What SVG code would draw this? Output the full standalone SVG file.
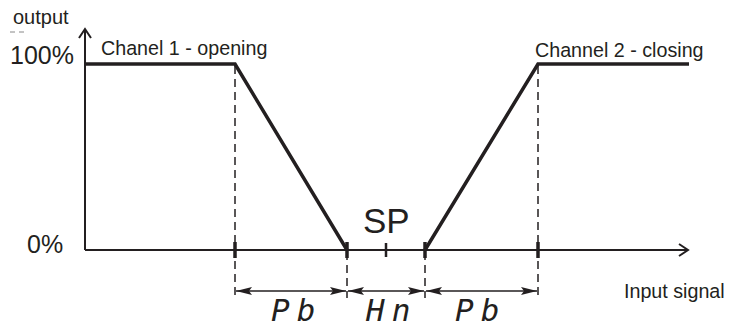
<svg xmlns="http://www.w3.org/2000/svg" width="729" height="329" viewBox="0 0 729 329">
<style>
.t{font-family:"Liberation Sans",Arial,sans-serif;fill:#231f20}
.ax{stroke:#231f20;stroke-width:2;fill:none}
.thick{stroke:#231f20;stroke-width:3.5;fill:none;stroke-linejoin:miter}
.dash{stroke:#231f20;stroke-width:1.5;stroke-dasharray:8,5;fill:none}
.tick{stroke:#231f20;stroke-width:3.5}
.dim{stroke:#231f20;stroke-width:1.5;fill:none;marker-start:url(#ah);marker-end:url(#ah)}
.seg{font-family:"DejaVu Sans Mono",monospace;font-style:italic;fill:#231f20;font-size:31px;letter-spacing:7px}
</style>
<defs>
<marker id="ah" viewBox="0 0 16 8" refX="16" refY="4" markerWidth="16" markerHeight="8" markerUnits="userSpaceOnUse" orient="auto-start-reverse">
<path d="M0,0 L16,4 L0,8 L3,4 Z" fill="#231f20"/>
</marker>
</defs>
<rect width="729" height="329" fill="#fff"/>
<g id="axes">
<path class="ax" d="M85,250 V29"/>
<path class="ax" d="M79,38 L85,29 L91,38"/>
<path class="ax" d="M85,250 H688"/>
<path class="ax" d="M679,244 L688,250 L679,256"/>
</g>
<g id="curves">
<path class="thick" d="M85,64 H235 L347,250"/>
<path class="thick" d="M425,250 L538,64 H689"/>
</g>
<g id="connectors">
<path class="dash" d="M235,66 V298"/>
<path class="dash" d="M538,66 V298"/>
<path class="dash" d="M347,252 V298"/>
<path class="dash" d="M425,252 V298"/>
<line class="tick" x1="235" y1="242" x2="235" y2="258"/>
<line class="tick" x1="347" y1="242" x2="347" y2="258"/>
<line class="tick" x1="425" y1="242" x2="425" y2="258"/>
<line class="tick" x1="538" y1="242" x2="538" y2="258"/>
<line x1="386" y1="243" x2="386" y2="257" stroke="#231f20" stroke-width="2.5"/>
<path class="dim" d="M236,291 H346"/>
<path class="dim" d="M348,291 H424"/>
<path class="dim" d="M426,291 H537"/>
</g>
<g id="labels">
<text class="t" x="13" y="24" font-size="20">output</text>
<path d="M10,32 H15 M19,32 H24" stroke="#888" stroke-width="1"/>
<text class="t" x="10" y="64" font-size="25">100%</text>
<text class="t" x="27" y="253" font-size="25">0%</text>
<text class="t" x="101" y="55" font-size="19.7">Chanel 1 - opening</text>
<text class="t" x="535" y="57" font-size="19.7">Channel 2 - closing</text>
<text class="t" x="363" y="233" font-size="35">SP</text>
<text class="t" x="624" y="298" font-size="19.7">Input signal</text>
<text class="seg" x="271" y="321">Pb</text>
<text class="seg" x="366" y="321">Hn</text>
<text class="seg" x="455" y="321">Pb</text>
</g>
</svg>
